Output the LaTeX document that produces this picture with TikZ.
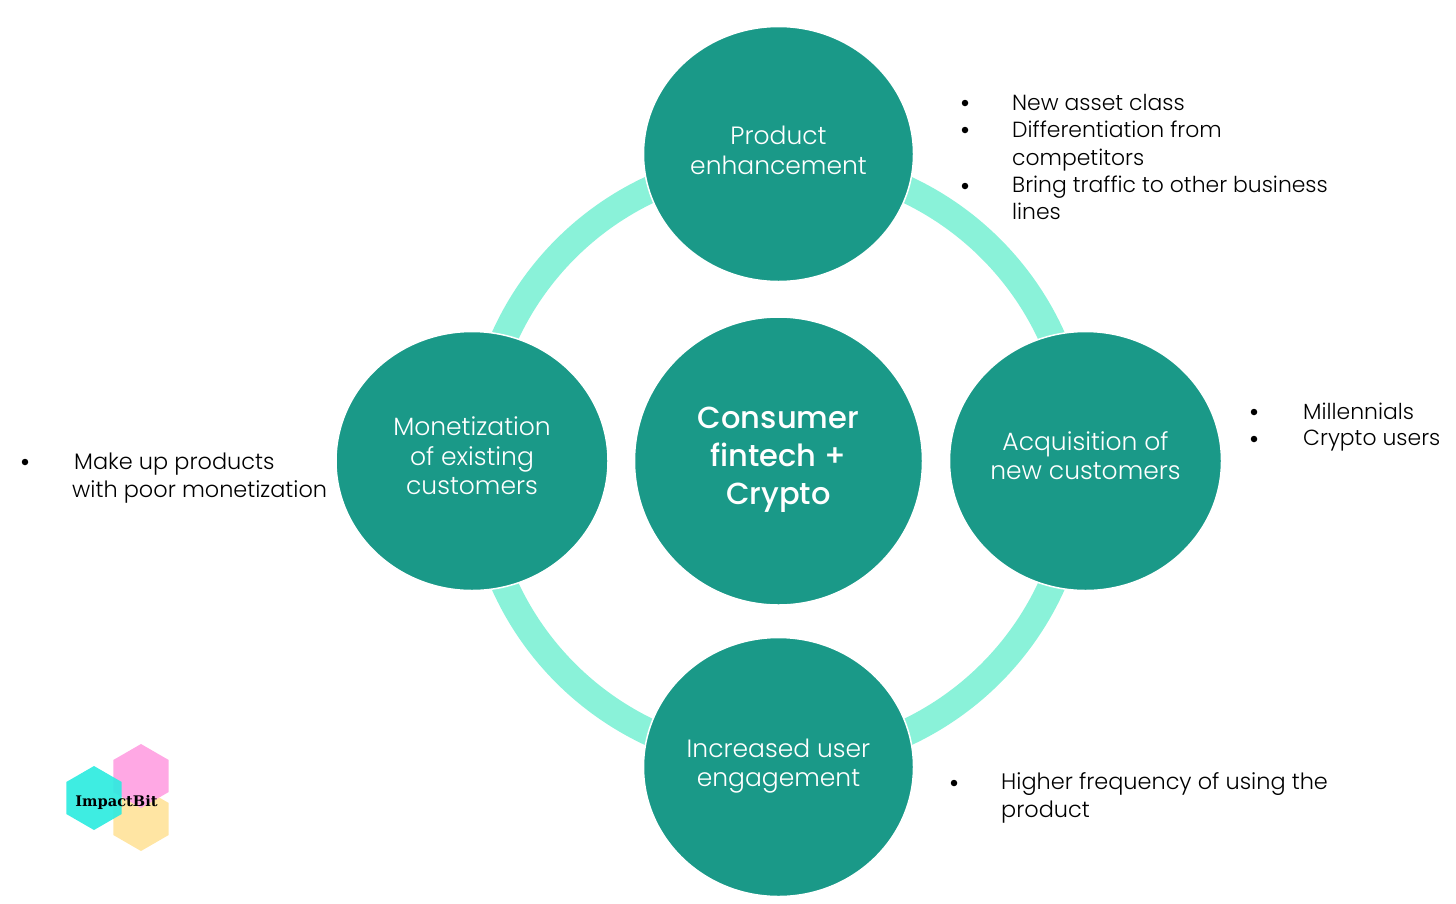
\documentclass[tikz,border=0pt]{standalone}
\usepackage{fontspec}
\setmainfont{Poppins Light}
\newfontfamily\hubfont{Poppins Medium}
\newfontfamily\logofont{DejaVu Serif}
\usetikzlibrary{shapes.geometric,backgrounds}
\definecolor{tealdark}{HTML}{1A9988}
\definecolor{ringmint}{HTML}{8AF2D9}
\definecolor{hexpink}{HTML}{FFA8E4}
\definecolor{hexyellow}{HTML}{FFE5A3}
\definecolor{hexcyan}{HTML}{2EEBE0}
\tikzset{
	stage/.style={ellipse, draw=white, line width=1.5pt, fill=tealdark, inner sep=0pt, text=white, align=center, font=\fontsize{25}{29.5}\selectfont},
	ringarc/.style={draw=ringmint, line width=27pt},
	hexa/.style={regular polygon, regular polygon sides=6, shape border rotate=30, inner sep=0pt, minimum size=64pt},
	note/.style={anchor=west, inner sep=0pt, align=left, font=\fontsize{21.9}{27.5}\selectfont},
	widenote/.style={note, font=\fontsize{22.4}{27.5}\selectfont},
	dotitem/.style={circle, fill=black, inner sep=0pt, minimum size=6.5pt}
}
\begin{document}
\begin{tikzpicture}[x=1pt,y=-1pt]
	\useasboundingbox (0,0) rectangle (1456,903);
	\node[stage, minimum width=270pt, minimum height=255pt, text depth=8pt] (product) at (778.5,154) {Product\\enhancement};
	\node[stage, minimum width=272pt, minimum height=259pt, text depth=11pt] (acquire) at (1085.5,461) {Acquisition of\\new customers};
	\node[stage, minimum width=270pt, minimum height=259pt, text depth=9pt] (engage) at (778.5,767) {Increased user\\engagement};
	\node[stage, minimum width=272pt, minimum height=259pt, text depth=10pt] (monetize) at (472,461) {Monetization\\of existing\\customers};
	\node[stage, minimum width=288pt, minimum height=288pt, text depth=11pt, font=\hubfont\fontsize{30.5}{38}\selectfont] (hub) at (778.5,461) {Consumer\\fintech +\\Crypto};
	% ring goes behind the circles
	\begin{scope}[on background layer]
		\draw[ringarc] ([yshift=-7pt]product.center) to[out=0, in=90] ([xshift=-7pt]acquire.center);
		\draw[ringarc] ([xshift=-7pt]acquire.center) to[out=-90, in=0] ([yshift=6pt]engage.center);
		\draw[ringarc] ([yshift=6pt]engage.center) to[out=180, in=-90] ([xshift=6pt]monetize.center);
		\draw[ringarc] ([xshift=6pt]monetize.center) to[out=90, in=180] ([yshift=-7pt]product.center);
	\end{scope}

	\node[dotitem] (d1) at (965,103) {};
	\node[dotitem] (d2) at (965,130) {};
	\node[dotitem] (d3) at (965,186) {};
	\node[note] (n1) at (1012,102) {New asset class};
	\node[note] (n2) at (1012,146) {Differentiation from\\competitors};
	\node[note] (n3) at (1012,198) {Bring traffic to other business\\lines};

	\node[dotitem] (d4) at (1254,412) {};
	\node[dotitem] (d5) at (1254,439) {};
	\node[note] (n4) at (1303,411) {Millennials};
	\node[note] (n5) at (1303,441) {Crypto users};

	\node[dotitem] (d6) at (25,462) {};
	\node[widenote] (n6) at (72,478) {\hspace{2pt}Make up products\\with poor monetization};

	\node[dotitem] (d7) at (954,783) {};
	\node[widenote] (n7) at (1001,798) {Higher frequency of using the\\product};

	\node[hexa, fill=hexyellow] (hexY) at (141,819) {};
	\node[hexa, fill=hexpink] (hexP) at (141,776) {};
	\node[hexa, fill=hexcyan, fill opacity=0.92] (hexC) at (94,798) {};
	\node[inner sep=0pt, font=\logofont\bfseries\fontsize{14.6}{14.6}\selectfont] (logo) at (116.5,802) {ImpactBit};
\end{tikzpicture}
\end{document}
